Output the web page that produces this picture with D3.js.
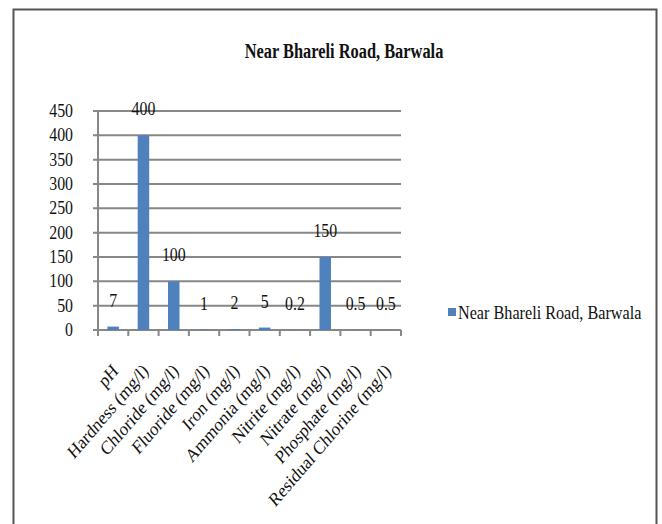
<!DOCTYPE html>
<html><head><meta charset="utf-8">
<script src="https://cdn.jsdelivr.net/npm/d3@7"></script>
<style>body{margin:0;background:#fff}svg{display:block}text{font-family:"Liberation Serif","Times New Roman",serif;fill:#111}</style>
</head><body><svg id="c" width="662" height="524"></svg>
<script>
const categories = ["pH","Hardness (mg/l)","Chloride (mg/l)","Fluoride (mg/l)","Iron (mg/l)","Ammonia (mg/l)","Nitrite (mg/l)","Nitrate (mg/l)","Phosphate (mg/l)","Residual Chlorine (mg/l)"];
const values = [7,400,100,1,2,5,0.2,150,0.5,0.5];
const valueLabels = ["7","400","100","1","2","5","0.2","150","0.5","0.5"];
const yTicks = [0,50,100,150,200,250,300,350,400,450];
const seriesName = "Near Bhareli Road, Barwala";
const title = "Near Bhareli Road, Barwala";

const svg = d3.select("#c");
// frame
svg.append("path").attr("d","M13.5,524 V9.5 H656.5 V524").attr("fill","none").attr("stroke","#555").attr("stroke-width",2);

const x = d3.scaleBand().domain(categories).range([98,401]).padding(0);
const y = d3.scaleLinear().domain([0,450]).range([330,111]);
function txt(g, s, tx, ty, size, anchor, sx, rot){
  const tr = `translate(${tx},${ty}) scale(${sx},1)` + (rot ? ` rotate(${rot})` : "");
  return g.append("text").attr("transform",tr)
   .attr("font-size",size).attr("text-anchor",anchor).text(s);
}
// gridlines
yTicks.forEach(t=>{
  svg.append("line").attr("x1",93).attr("x2",401).attr("y1",y(t)).attr("y2",y(t))
   .attr("stroke","#878787").attr("stroke-width",2);
});
// y axis line
svg.append("line").attr("x1",98).attr("x2",98).attr("y1",y(450)).attr("y2",y(0)+6).attr("stroke","#878787").attr("stroke-width",2);
// category ticks
const bounds = categories.map(c=>x(c)).concat([x.range()[1]]);
bounds.forEach(b=>{
  svg.append("line").attr("x1",b).attr("x2",b).attr("y1",y(0)).attr("y2",y(0)+6).attr("stroke","#878787").attr("stroke-width",2);
});
// y labels
yTicks.forEach(t=>{
  txt(svg, String(t), 73, y(t)+6, 18, "end", 0.88);
});
// bars
const bw = x.bandwidth()*0.38;
svg.append("g").selectAll("rect").data(values).join("rect")
  .attr("x",(d,i)=>x(categories[i])+x.bandwidth()/2-bw/2)
  .attr("width",bw)
  .attr("y",d=>y(d)).attr("height",d=>y(0)-y(d))
  .attr("fill","#4F81BD");
// data labels
values.forEach((v,i)=>{
  txt(svg, valueLabels[i], x(categories[i])+x.bandwidth()/2, y(v)-20, 18, "middle", 0.88);
});
// x labels
categories.forEach(c=>{
  const cx = x(c)+x.bandwidth()/2+6;
  txt(svg, c, cx, 372, 19.2, "end", 0.86, -45);
});
// title
txt(svg, title, 344, 58, 20, "middle", 0.82).attr("font-weight","bold");
// legend
svg.append("rect").attr("x",448).attr("y",308).attr("width",8).attr("height",8).attr("fill","#4F81BD");
txt(svg, seriesName, 458, 319, 18, "start", 0.9);
</script></body></html>
